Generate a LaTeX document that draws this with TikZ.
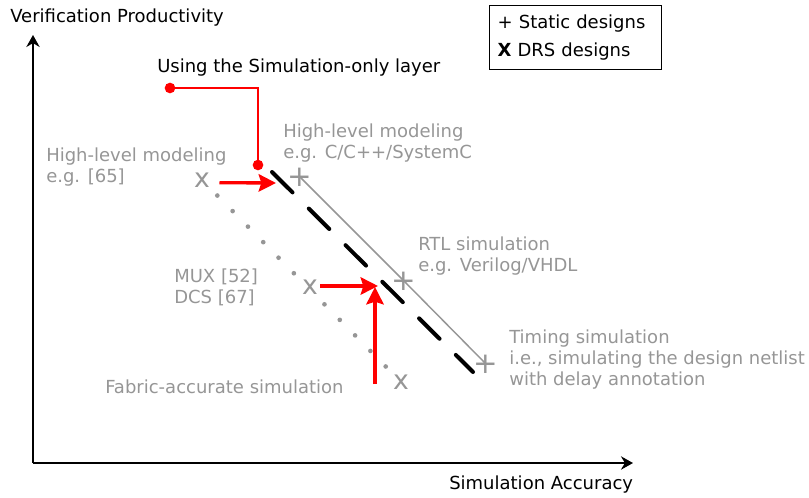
\documentclass[tikz,border=0pt]{standalone}
\usepackage{fontspec}
\setmainfont{DejaVu Sans}
\usetikzlibrary{arrows.meta}
\definecolor{markgray}{RGB}{150,150,150}
\begin{document}
\begin{tikzpicture}[
		x=0.75pt, y=-0.75pt,
		txt/.style={font=\fontsize{13.5}{15.75}\selectfont, align=left, anchor=west, inner sep=0pt},
		note/.style={txt, text=markgray},
		plusmark/.style={text=markgray, font=\fontsize{22}{22}\selectfont, inner sep=0pt},
		xmark/.style={text=markgray, font=\fontsize{20}{20}\selectfont, inner sep=0pt, fill=white},
		axis/.style={line width=1.5pt, -{Stealth[length=9pt,width=10pt]}},
		redarrow/.style={red, line width=2.5pt, -{Stealth[length=13pt,width=13pt,inset=2pt]}}
	]
	\useasboundingbox (0,0) rectangle (809,497);
	\coordinate (origin) at (33,463);
	\coordinate (ytip) at (33,35);
	\coordinate (xtip) at (633,463);
	\draw[axis] (origin) -- (ytip);
	\draw[axis] (origin) -- (xtip);
	\node[txt] (ylabel) at (10,18) {Verification Productivity};
	\node[txt] (xlabel) at (449,485) {Simulation Accuracy};
	\node[txt, draw, line width=1.1pt, anchor=north west, text width=117pt, minimum height=48pt,
		inner xsep=6pt] (legend) at (489,5) {+ Static designs\\[5pt]\textbf{X} DRS designs};
	\node[txt] (simlabel) at (157,68) {Using the Simulation-only layer};
	\coordinate (simstart) at (170,88);
	\coordinate (simbend) at (258,88);
	\coordinate (simend) at (258,165);
	\draw[red, line width=1.5pt] (simstart) -- (simbend) -- (simend);
	\fill[red] (simstart) circle (4pt);
	\fill[red] (simend) circle (4pt);
	\node[plusmark] (hlmark) at (300,177) {+};
	\node[plusmark] (rtlmark) at (404,281) {+};
	\node[plusmark] (timingmark) at (486,364) {+};
	\draw[markgray, line width=1.1pt] (hlmark.center) -- (rtlmark.center) -- (timingmark.center);
	\coordinate (dstart) at (272,172);
	\coordinate (dend) at (473,372);
	\draw[line width=3pt, line cap=round, dash pattern=on 21.7pt off 17.2pt] (dstart) -- (dend);
	\coordinate (hlx) at (202,180);
	\coordinate (fabx) at (401,382);
	\draw[markgray, line width=3.5pt, line cap=round, dash pattern=on 0pt off 16.36pt] (hlx) -- (fabx);
	\node[xmark] (hlxmark) at (hlx) {x};
	\node[xmark] (muxxmark) at (310,287) {x};
	\node[xmark] (fabxmark) at (fabx) {x};
	\node[note] (hlnote) at (46,167) {High-level modeling\\e.g. [65]};
	\node[note] (hlcnote) at (283,143) {High-level modeling\\e.g. C/C++/SystemC};
	\node[note] (rtlnote) at (418,256) {RTL simulation\\e.g. Verilog/VHDL};
	\node[note] (muxnote) at (174,287) {MUX [52]\\DCS [67]};
	\node[note] (timingnote) at (509,360) {Timing simulation\\i.e., simulating the design netlist\\with delay annotation};
	\node[note] (fabnote) at (105,387) {Fabric-accurate simulation};
	\coordinate (hlhit) at (276,183);
	\coordinate (muxhit) at (378,286);
	\coordinate (fabtail) at (375,384);
	\coordinate (fabhit) at (375,287);
	\draw[redarrow] ([xshift=7pt,yshift=-2pt]hlxmark.east) -- (hlhit);
	\draw[redarrow] ([xshift=1.5pt,yshift=0.75pt]muxxmark.east) -- (muxhit);
	\draw[redarrow] (fabtail) -- (fabhit);
\end{tikzpicture}
\end{document}
